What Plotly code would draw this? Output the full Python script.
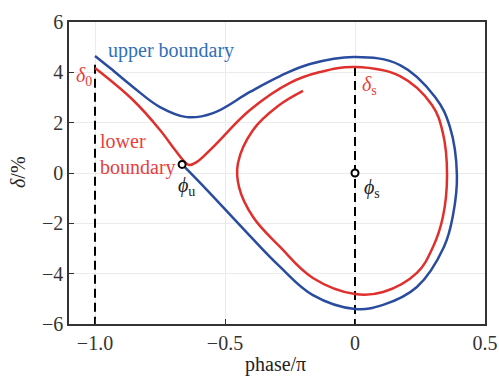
import plotly.graph_objects as go

# Separatrix ("upper boundary") in phase space: phase/π vs δ/%
upper_phase = [-1.0, -0.942, -0.854, -0.75, -0.646, -0.546, -0.404, -0.288, -0.173, 0.0,
               0.173, 0.308, 0.365, 0.392, 0.377, 0.342, 0.238, 0.108, 0.0, -0.162,
               -0.288, -0.415, -0.569, -0.665]
upper_delta = [4.65, 4.17, 3.42, 2.62, 2.22, 2.38, 3.22, 3.85, 4.33, 4.61,
               4.29, 3.02, 1.83, -0.08, -1.67, -2.94, -4.53, -5.24, -5.40, -4.85,
               -3.73, -2.38, -0.68, 0.34]

# Particle trajectory ("lower boundary") spiralling into the bucket
lower_phase = [-1.0, -0.854, -0.75, -0.692, -0.662, -0.638, -0.608, -0.546, -0.404, -0.25,
               -0.135, 0.0, 0.173, 0.296, 0.338, 0.354, 0.338, 0.30, 0.238, 0.108,
               0.0, -0.162, -0.288, -0.392, -0.446, -0.45, -0.392, -0.296, -0.2]
lower_delta = [4.17, 2.90, 1.71, 0.91, 0.52, 0.32, 0.44, 1.03, 2.50, 3.58,
               4.01, 4.21, 3.85, 2.70, 1.59, -0.08, -1.75, -2.94, -3.97, -4.73,
               -4.81, -4.17, -2.94, -1.75, -0.56, 0.40, 1.71, 2.66, 3.26]

# Fixed points: unstable (ϕu) and stable (ϕs)
fixed_phase = [-0.665, 0.0]
fixed_delta = [0.34, 0.0]

# Reference phases with the δ values where the dashed guides stop
guide_phase = [-1.0, 0.0]
guide_top = [4.3, 4.21]

x_tickvals = [-1.0, -0.5, 0.0, 0.5]
x_ticktext = ["\u22121.0", "\u22120.5", "0", "0.5"]
y_tickvals = [6, 4, 2, 0, -2, -4, -6]
y_ticktext = ["6", "4", "2", "0", "\u22122", "\u22124", "\u22126"]

BLUE = "#2a4c9f"
RED = "#e0302e"
BLUE_TXT = "#2f70b8"
RED_TXT = "#e8403c"
SERIF = "Liberation Serif, Times New Roman, serif"

fig = go.Figure()

for gx, gt in zip(guide_phase, guide_top):
    fig.add_trace(go.Scatter(
        x=[gx, gx], y=[gt, -6], mode="lines",
        line=dict(color="black", width=2, dash="9px,5px"),
        hoverinfo="skip", showlegend=False))

fig.add_trace(go.Scatter(
    x=upper_phase, y=upper_delta, mode="lines",
    line=dict(color=BLUE, width=2.5, shape="spline", smoothing=1.1),
    showlegend=False))

fig.add_trace(go.Scatter(
    x=lower_phase, y=lower_delta, mode="lines",
    line=dict(color=RED, width=2.5, shape="spline", smoothing=1.1),
    showlegend=False))

fig.add_trace(go.Scatter(
    x=fixed_phase, y=fixed_delta, mode="markers",
    marker=dict(symbol="circle", size=7, color="white",
                line=dict(color="black", width=2)),
    showlegend=False))

ann_font = dict(family=SERIF, size=20)
annotations = [
    dict(x=-0.958, y=4.85, text="upper boundary", xanchor="left", yanchor="middle",
         font=dict(ann_font, color=BLUE_TXT)),
    dict(x=-0.99, y=0.73, text="lower<br>boundary", xanchor="left", yanchor="middle",
         align="left", font=dict(ann_font, color=RED_TXT)),
    dict(x=-1.0, y=3.85, text="<i>δ</i><sub>0</sub>", xanchor="right", yanchor="middle",
         xshift=-1, font=dict(ann_font, color=RED_TXT)),
    dict(x=0.019, y=3.46, text="<i>δ</i><sub>s</sub>", xanchor="left", yanchor="middle",
         font=dict(ann_font, color=RED_TXT)),
    dict(x=-0.69, y=-0.52, text="<i>ϕ</i><sub>u</sub>", xanchor="left", yanchor="middle",
         font=dict(ann_font, color="#222222")),
    dict(x=0.025, y=-0.6, text="<i>ϕ</i><sub>s</sub>", xanchor="left", yanchor="middle",
         font=dict(ann_font, color="#222222")),
    dict(xref="paper", yref="paper", x=0.497, y=-0.133, text="phase/π",
         xanchor="center", yanchor="middle",
         font=dict(family=SERIF, size=20, color="#222222")),
    dict(xref="paper", yref="paper", x=-0.123, y=0.503, text="<i>δ</i>/%",
         textangle=-90, xanchor="center", yanchor="middle",
         font=dict(family=SERIF, size=20, color="#222222")),
]
for a in annotations:
    a["showarrow"] = False
fig.update_layout(annotations=annotations)

axis_common = dict(
    showgrid=True, gridcolor="#ebebeb", gridwidth=1, automargin=False,
    zeroline=False, showline=True, linecolor="#333333", linewidth=1.5,
    mirror=True, ticks="inside", ticklen=5, tickcolor="#333333", tickwidth=1.2,
    tickfont=dict(family=SERIF, size=20, color="#333333"),
)
fig.update_xaxes(range=[-1.1, 0.5], tickvals=x_tickvals, ticktext=x_ticktext, **axis_common)
fig.update_yaxes(range=[-6, 6], tickvals=y_tickvals, ticktext=y_ticktext, **axis_common)

fig.update_layout(
    width=499, height=376,
    margin=dict(l=69, r=14, t=22, b=52, autoexpand=False),
    paper_bgcolor="white", plot_bgcolor="white",
)

fig.write_html("out.html")
